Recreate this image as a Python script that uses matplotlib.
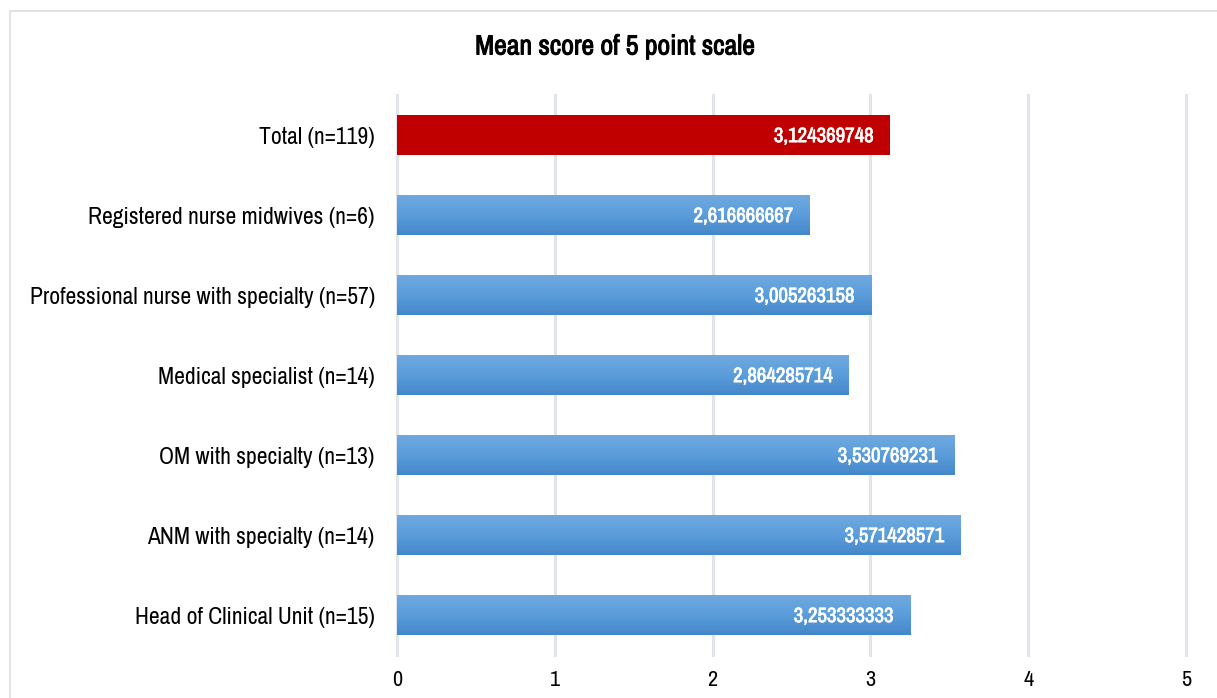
import matplotlib
matplotlib.use("Agg")
import matplotlib.pyplot as plt
import numpy as np
from matplotlib.patches import Rectangle
from matplotlib.colors import LinearSegmentedColormap
from matplotlib import patheffects as pe

categories = [
    "Total (n=119)",
    "Registered nurse midwives (n=6)",
    "Professional nurse with specialty (n=57)",
    "Medical specialist (n=14)",
    "OM with specialty (n=13)",
    "ANM with specialty (n=14)",
    "Head of Clinical Unit (n=15)",
]
values = [3.124369748, 2.616666667, 3.005263158, 2.864285714,
          3.530769231, 3.571428571, 3.253333333]
value_labels = ["3,124369748", "2,616666667", "3,005263158", "2,864285714",
                "3,530769231", "3,571428571", "3,253333333"]
x_ticks = [0, 1, 2, 3, 4, 5]
title = "Mean score of 5 point scale"

plt.rcParams["font.family"] = ["Archivo Narrow", "DejaVu Sans"]


def heavy(color, width):
    # thicken glyphs of the narrow face with a same-coloured outline
    return [pe.Stroke(linewidth=width, foreground=color), pe.Normal()]


fig = plt.figure(figsize=(12.17, 6.98), dpi=100)
W, H = 1217, 698
ax = fig.add_axes([397 / W, 1 - 655 / H, (1186 - 397) / W, (655 - 95) / H])

# outer chart frame
fig.patches.append(Rectangle((10 / W, -0.1), 1.2, 1 - 11 / H + 0.1,
                             transform=fig.transFigure, fill=False,
                             edgecolor="#d9dee5", linewidth=1.2))

y = np.arange(len(categories))
bars = ax.barh(y, values, height=0.5, color="none", edgecolor="none", zorder=2)

blue_cmap = LinearSegmentedColormap.from_list(
    "bluegrad", ["#70a9df", "#5b9ddb", "#4487c8"])
grad = np.linspace(0, 1, 256).reshape(-1, 1)
for i, (bar, v) in enumerate(zip(bars, values)):
    x0, y0 = bar.get_x(), bar.get_y()
    w, h = bar.get_width(), bar.get_height()
    if i == 0:
        ax.add_patch(Rectangle((x0, y0), w, h, facecolor="#c00000",
                               edgecolor="none", zorder=2))
    else:
        im = ax.imshow(grad, cmap=blue_cmap, aspect="auto",
                       extent=(x0, x0 + w, y0 + h, y0), zorder=2,
                       interpolation="bicubic")
        im.set_clip_path(bar)
    ax.text(v - 0.1, y[i] + 0.02, value_labels[i], ha="right", va="center",
            color="white", fontsize=15, zorder=3,
            path_effects=heavy("white", 0.5))

ax.set_xlim(0, 5)
ax.set_ylim(len(categories) - 0.5, -0.5)
ax.set_xticks(x_ticks)
ax.set_xticklabels([str(t) for t in x_ticks])
ax.set_yticks(y)
ax.set_yticklabels(categories)
ax.tick_params(axis="x", length=0, labelsize=16, colors="black", pad=11)
ax.tick_params(axis="y", length=0, labelsize=17, colors="black", pad=16)
ax.grid(axis="x", color="#e1e5eb", linewidth=2.2, zorder=0)
for gl in ax.get_xgridlines():
    gl.set_clip_on(False)
ax.set_axisbelow(True)
for s in ax.spines.values():
    s.set_visible(False)
ax.set_facecolor("white")

fig.text(615 / W, 1 - 47 / H, title, ha="center", va="center",
         fontsize=20, path_effects=heavy("black", 0.7))

fig.savefig("out.png", dpi=100, facecolor="white")
